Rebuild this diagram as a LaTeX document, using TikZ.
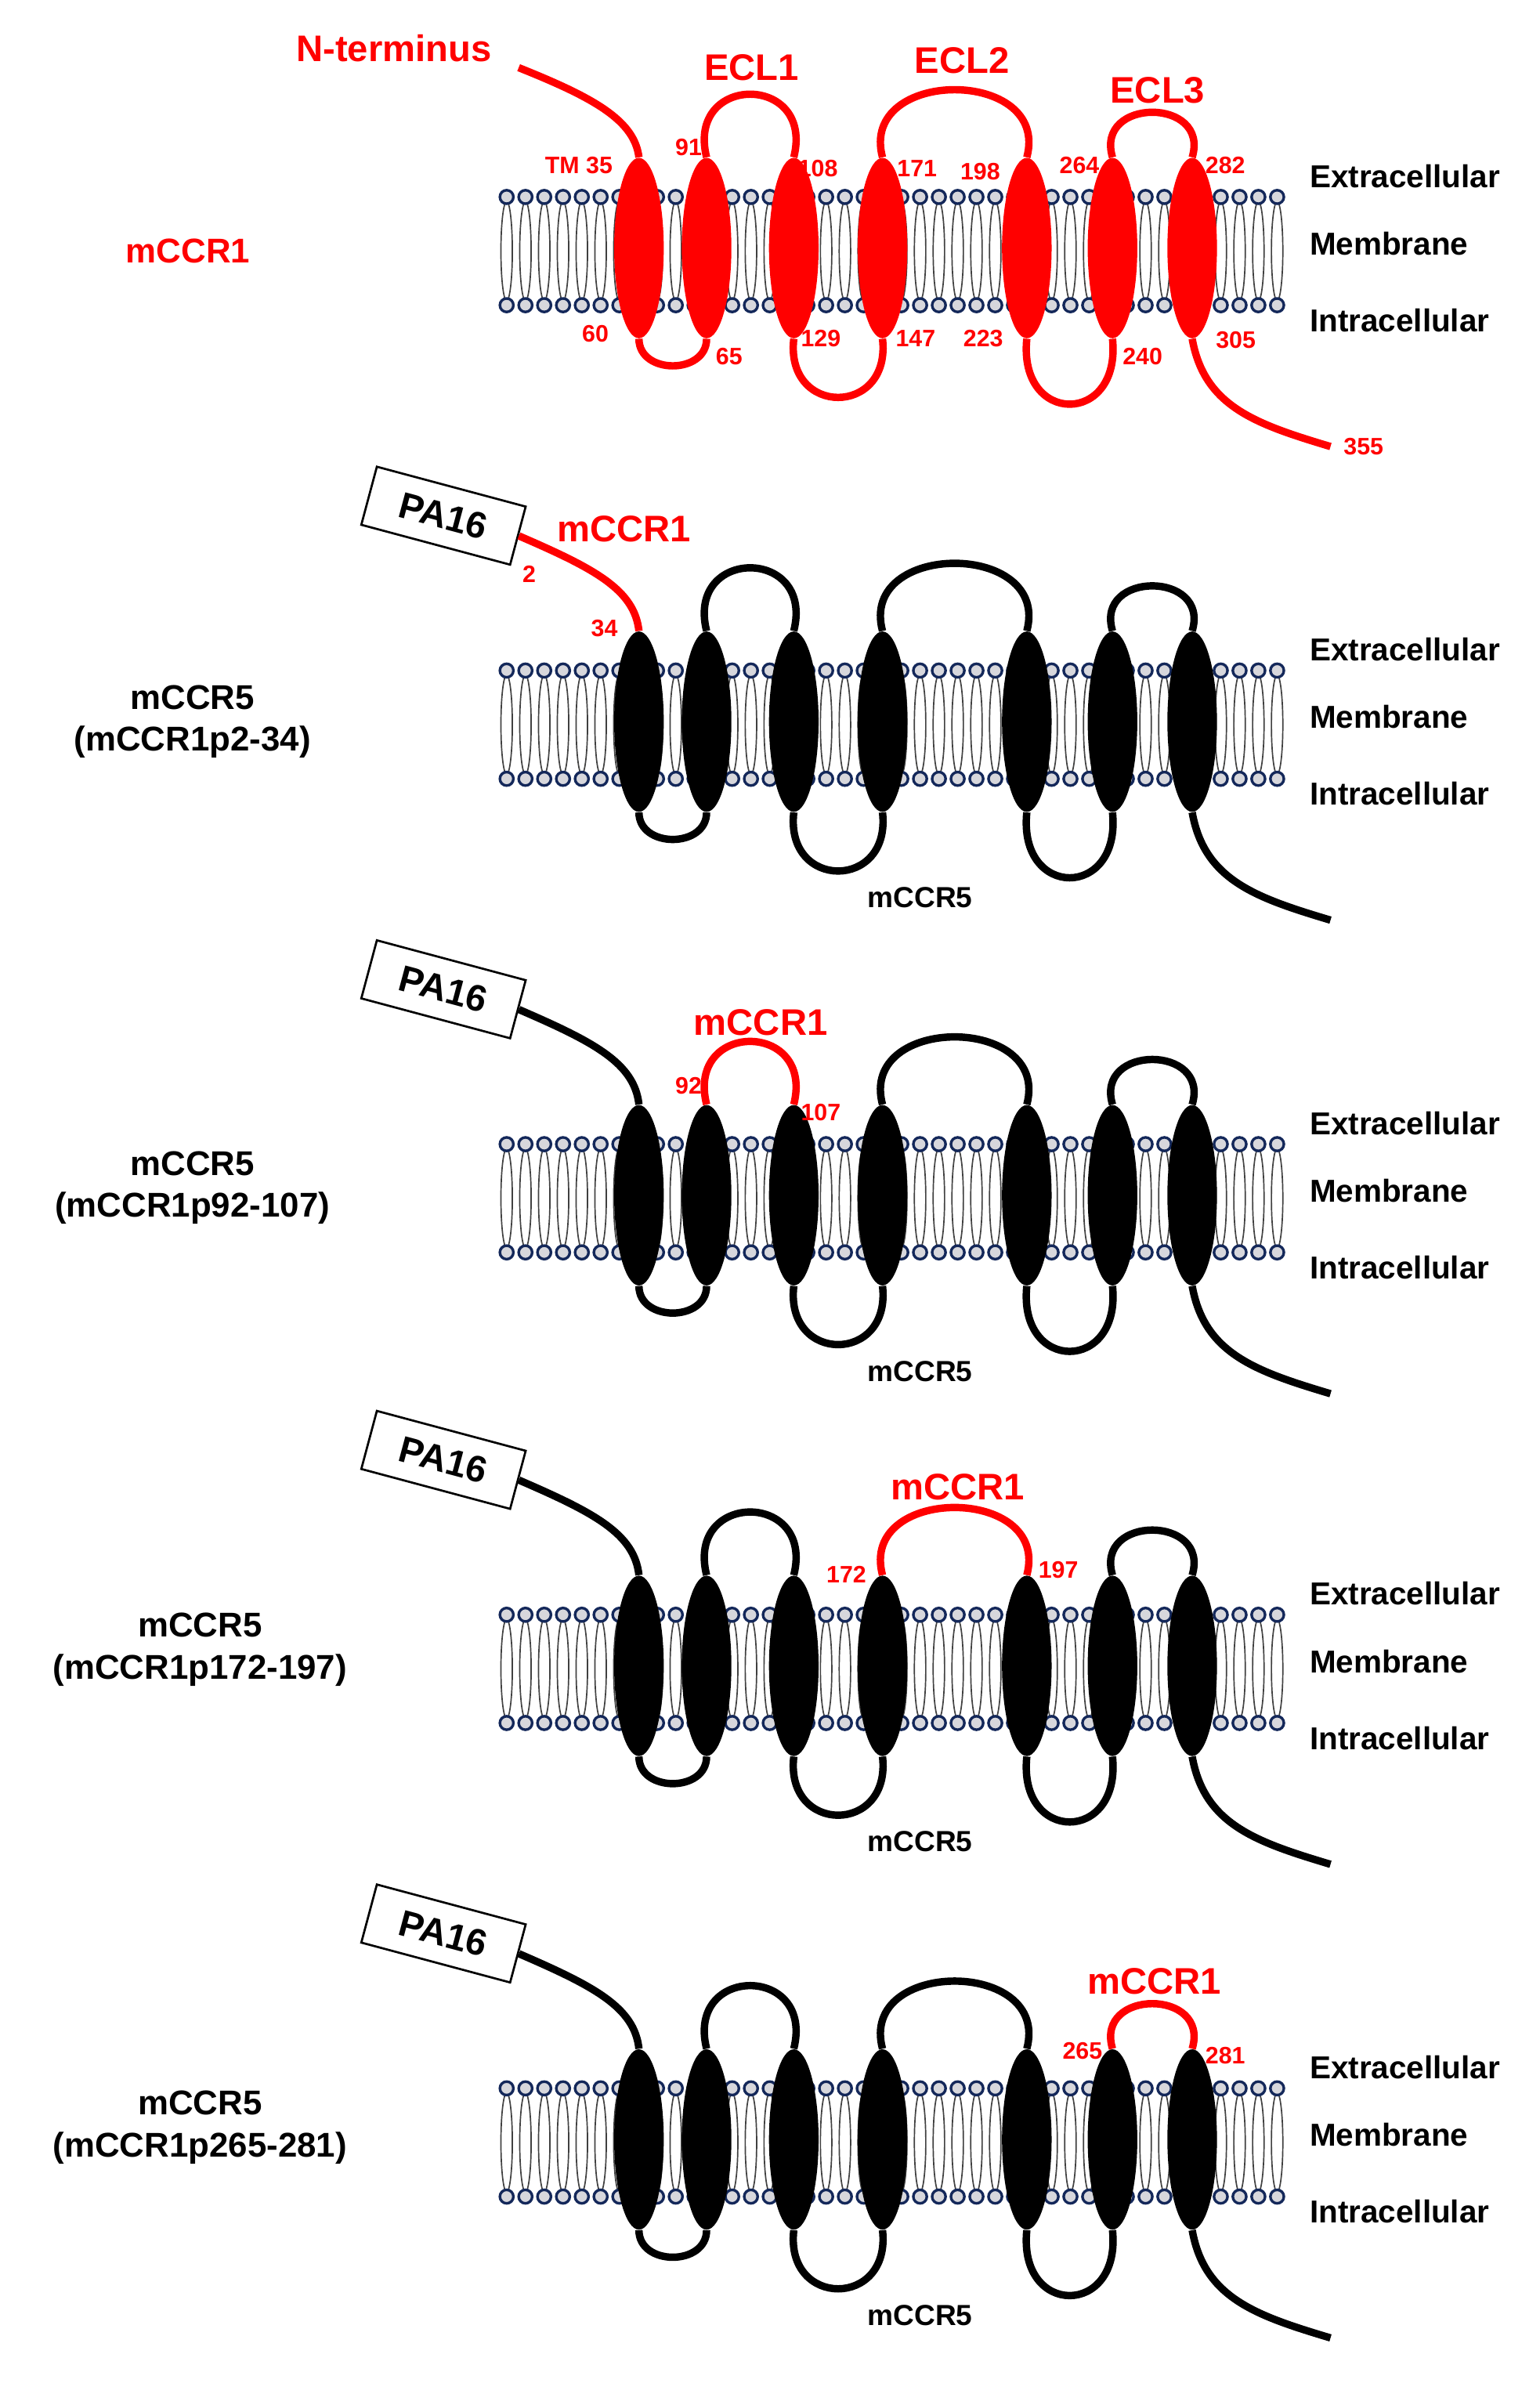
\documentclass[tikz,border=0pt]{standalone}
\usepackage{fontspec}
\setmainfont{Liberation Sans}
\usetikzlibrary{shapes.geometric}
\definecolor{rd}{RGB}{255,0,0}
\definecolor{navy}{RGB}{20,40,90}
\definecolor{headgray}{RGB}{215,215,220}
\begin{document}
\begin{tikzpicture}[x=0.02cm,y=-0.02cm,
  helixR/.style={ellipse,fill=rd,draw=none,minimum width=0.66cm,minimum height=2.4cm,inner sep=0pt},
  helixB/.style={ellipse,fill=black,draw=none,minimum width=0.66cm,minimum height=2.4cm,inner sep=0pt},
  loopR/.style={draw=rd,line width=2.8pt},
  loopB/.style={draw=black,line width=2.8pt},
  lbl/.style={font=\bfseries\fontsize{12}{14}\selectfont,anchor=west},
  num/.style={font=\bfseries\fontsize{9}{10}\selectfont,text=rd},
  ttl/.style={font=\bfseries\fontsize{14}{16}\selectfont,text=rd},
  side/.style={font=\bfseries\fontsize{13}{16}\selectfont,align=center},
  pa/.style={draw,thick,fill=white,minimum width=2.05cm,minimum height=0.8cm,rotate=-15,font=\bfseries\fontsize{14}{16}\selectfont}
]
\useasboundingbox (0,0) rectangle (1024,1585);
\newcommand\mymem[1]{%
  \begin{scope}[yshift=#1*-0.02cm]
  \foreach \i in {0,...,41}{
    \pgfmathsetmacro\xx{337+12.5*\i}
    \draw[black!75,line width=0.5pt] (\xx,167) ellipse [x radius=3.8,y radius=33];
    \draw[navy,fill=headgray,line width=1pt] (\xx,131) circle [radius=4.5];
    \draw[navy,fill=headgray,line width=1pt] (\xx,203) circle [radius=4.5];
  }
  \node[lbl] (ex#1) at (865,117) {Extracellular};
  \node[lbl] (me#1) at (865,162) {Membrane};
  \node[lbl] (in#1) at (865,213) {Intracellular};
  \end{scope}}
\newcommand\myhel[3]{% shift, style, prefix
  \node[#2] (#3a) at (425,165+#1) {};
  \node[#2] (#3b) at (470,165+#1) {};
  \node[#2] (#3c) at (528,165+#1) {};
  \node[#2] (#3d) at (587,165+#1) {};
  \node[#2] (#3e) at (683,165+#1) {};
  \node[#2] (#3f) at (740,165+#1) {};
  \node[#2] (#3g) at (793,165+#1) {};}
\newcommand\ecla[2]{\draw[#1] (#2b.north) .. controls +(-14,-56) and +(14,-56) .. (#2c.north);}
\newcommand\eclb[2]{\draw[#1] (#2d.north) .. controls +(-16,-60) and +(16,-60) .. (#2e.north);}
\newcommand\eclc[2]{\draw[#1] (#2f.north) .. controls +(-12,-40) and +(12,-40) .. (#2g.north);}
\newcommand\icls[2]{%
  \draw[#1] (#2a.south) .. controls +(0,24) and +(0,24) .. (#2b.south);
  \draw[#1] (#2c.south) .. controls +(-6,52) and +(6,52) .. (#2d.south);
  \draw[#1] (#2e.south) .. controls +(-6,58) and +(6,58) .. (#2f.south);}
% ---------- panel 1
\mymem{0}
\myhel{0}{helixR}{A}
\coordinate (Anst) at (345,45);
\coordinate (Acend) at (885,297);
\draw[loopR] (Anst) .. controls (395,65) and (422,80) .. (Aa.north);
\ecla{loopR}{A}\eclb{loopR}{A}\eclc{loopR}{A}\icls{loopR}{A}
\draw[loopR] (Ag.south) .. controls +(8,45) and (835,282) .. (Acend);
\node[side,text=rd] (s1) at (125,167) {mCCR1};
\node[ttl] (t0) at (262,32) {N-terminus};
\node[ttl] (t1) at (500,45) {ECL1};
\node[ttl] (t2) at (640,40) {ECL2};
\node[ttl] (t3) at (770,60) {ECL3};
\foreach \t/\x/\y in {TM 35/385/110,91/458/98,108/544/112,171/610/112,198/652/114,264/718/110,282/815/110,60/396/222,65/485/237,129/546/225,147/609/225,223/654/225,240/760/237,305/822/226,355/907/297}
  \node[num] at (\x,\y) {\t};
% ---------- generic panels
\foreach \sh/\p in {315/B,630/C,943/D,1258/E}{
  \mymem{\sh}
  \myhel{\sh}{helixB}{\p}
  \node[pa] (\p pa) at (295,28+\sh) {PA16};
  \coordinate (\p cend) at (885,297+\sh);
  \node[font=\bfseries\fontsize{11}{13}\selectfont] (\p lab) at (612,282+\sh) {mCCR5};
  \draw[loopB] (\p g.south) .. controls +(8,45) and (835,282+\sh) .. (\p cend);
  \icls{loopB}{\p}
}
% panel 2
\draw[loopR] (Bpa.east) .. controls (395,378) and (422,392) .. (Ba.north);
\ecla{loopB}{B}\eclb{loopB}{B}\eclc{loopB}{B}
\node[ttl] at (415,352) {mCCR1};
\node[num] at (352,382) {2};
\node[num] at (402,418) {34};
\node[side] at (128,480) {mCCR5\\(mCCR1p2-34)};
% panel 3
\draw[loopB] (Cpa.east) .. controls (395,693) and (422,707) .. (Ca.north);
\ecla{loopR}{C}\eclb{loopB}{C}\eclc{loopB}{C}
\node[ttl] at (506,680) {mCCR1};
\node[num] at (458,722) {92};
\node[num] at (546,740) {107};
\node[side] at (128,790) {mCCR5\\(mCCR1p92-107)};
% panel 4
\draw[loopB] (Dpa.east) .. controls (395,1006) and (422,1020) .. (Da.north);
\ecla{loopB}{D}\eclb{loopR}{D}\eclc{loopB}{D}
\node[ttl] at (637,989) {mCCR1};
\node[num] at (563,1047) {172};
\node[num] at (704,1044) {197};
\node[side] at (133,1097) {mCCR5\\(mCCR1p172-197)};
% panel 5
\draw[loopB] (Epa.east) .. controls (395,1321) and (422,1335) .. (Ea.north);
\ecla{loopB}{E}\eclb{loopB}{E}\eclc{loopR}{E}
\node[ttl] at (768,1318) {mCCR1};
\node[num] at (720,1364) {265};
\node[num] at (815,1367) {281};
\node[side] at (133,1415) {mCCR5\\(mCCR1p265-281)};
\end{tikzpicture}
\end{document}
